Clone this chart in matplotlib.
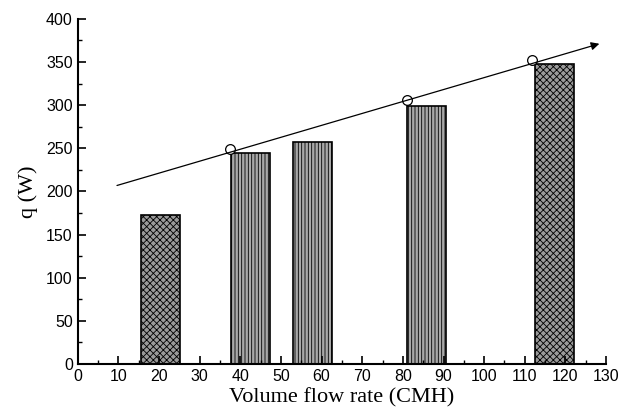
import matplotlib.pyplot as plt
import numpy as np

# bar data (volume flow rate in CMH, heat q in W)
bar_x = [20.3, 42.6, 57.8, 85.8, 117.3]
bar_q = [173, 245, 257, 299, 348]
bar_w = 9.6
bar_style = ['grid', 'lines', 'lines', 'lines', 'grid']

# open circle points on the trend
pt_x = [37.4, 81.0, 111.8]
pt_q = [249, 306, 352]

# trend arrow end points
trend_x = [9.0, 129.0]
trend_y = [206, 372]

plt.rcParams['hatch.linewidth'] = 0.6

fig = plt.figure(figsize=(6.32, 4.18), dpi=100)
ax = fig.add_axes([0.123, 0.129, 0.836, 0.826])

for x, q, s in zip(bar_x, bar_q, bar_style):
    if s == 'grid':
        ax.bar(x, q, width=bar_w, color='#9a9a9a', edgecolor='black', hatch='xxxxx', linewidth=1.2)
    else:
        ax.bar(x, q, width=bar_w, color='#a8a8a8', edgecolor='black', hatch='|||||', linewidth=1.2)

ax.annotate('', xy=(trend_x[1], trend_y[1]), xytext=(trend_x[0], trend_y[0]),
            arrowprops=dict(arrowstyle='-|>', color='black', lw=0.9, mutation_scale=12))
ax.plot(pt_x, pt_q, 'o', markerfacecolor='white', markeredgecolor='black', markersize=7, markeredgewidth=0.9)

ax.set_xlim(0, 130)
ax.set_ylim(0, 400)
ax.set_xticks(np.arange(0, 131, 10))
ax.set_xticks(np.arange(5, 130, 10), minor=True)
ax.set_yticks(np.arange(0, 401, 50))
ax.set_yticks(np.arange(25, 400, 50), minor=True)
ax.spines['top'].set_visible(False)
ax.spines['right'].set_visible(False)
ax.spines['left'].set_linewidth(1.5)
ax.spines['bottom'].set_linewidth(1.5)
ax.tick_params(which='major', direction='in', length=6, width=1.2)
ax.tick_params(which='minor', direction='in', length=3, width=1)
for lab in ax.get_xticklabels() + ax.get_yticklabels():
    lab.set_fontfamily('Liberation Sans')
    lab.set_fontsize(11.5)

ax.set_xlabel('Volume flow rate (CMH)', fontfamily='Liberation Serif', fontsize=16, labelpad=3)
ax.set_ylabel('q (W)', fontfamily='Liberation Serif', fontsize=16, labelpad=6)

fig.savefig('out.png', dpi=100)
